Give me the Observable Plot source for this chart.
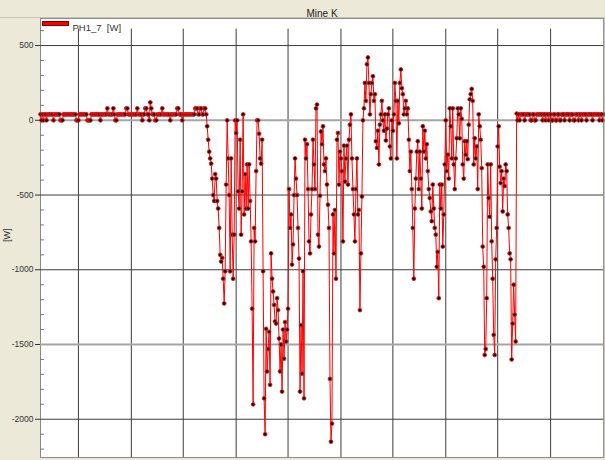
<!DOCTYPE html>
<html>
<head>
<meta charset="utf-8">
<script src="https://cdn.jsdelivr.net/npm/d3@7"></script>
<script src="https://cdn.jsdelivr.net/npm/@observablehq/plot@0.6"></script>
<style>
  html, body { margin: 0; padding: 0; background: #ECE9D8; }
  #chart { width: 605px; height: 460px; }
</style>
</head>
<body>
<div id="chart"></div>
<script>
// ---- Data (values in W, one sample per step) ----
const seriesName = "PH1_7\u00a0 [W]";
const title = "Mine K";
const yLabel = "[W]";

const idleStart = [
  40,0,40,0,40,40,0,40,40,40,
  40,40,40,0,40,40,40,40,40,40,
  0,0,0,40,40,40,40,40,40,40,
  40,40,40,40,40,40,0,0,0,40,
  40,40,40,40,40,40,40,0,0,0,
  0,40,40,40,40,40,40,40,40,40,
  0,40,40,40,40,40,40,80,40,40,
  40,40,40,80,40,0,0,40,40,40,
  40,40,40,40,40,40,80,80,40,40,
  40,40,40,40,40,40,40,80,40,40,
  40,40,0,40,40,80,80,40,40,0,
  120,80,40,40,40,0,0,40,40,40,
  40,40,80,40,40,40,40,40,40,40,
  0,40,40,40,40,40,40,80,80,40,
  40,40,0,40,40,40,40,40,40,40,
  40,40,40,40,40,80,80,80,40,40,
  80,80,40,40,80,80,40
];

const active = [
  -40,-130,-210,-255,-290,-390,-500,-540,-360,-390,
  -540,-590,-720,-900,-945,-920,-1060,-1225,-1010,-430,
  0,-255,-500,-1010,-255,-765,-1060,-765,0,-85,
  0,-475,-590,-130,-765,-475,40,-630,-360,-590,
  -295,-590,-295,-540,-810,-1260,-1900,-720,-810,-340,
  0,0,-90,-255,-290,-130,-1010,-1860,-2100,-1395,
  -1680,-1530,-1415,-1770,-890,-1060,-1145,-1235,-1345,-1360,
  -1190,-1270,-1460,-1680,-1500,-1815,-1400,-1595,-1350,-1480,
  -1400,-1260,-460,-720,-630,-965,-830,-500,-255,-390,
  -500,-720,-925,-1815,-1370,-1695,-1010,-1860,-130,-255,
  -160,-460,-810,-890,-630,-460,-130,-295,-460,80,
  105,-765,-845,-505,-75,-160,-40,-295,-340,-255,
  -430,-565,-720,-1730,-2150,-2030,-630,-890,-600,-1060,
  -130,-85,-430,-210,-255,-340,-810,-170,-410,-255,
  -170,-430,-130,-30,40,-255,-460,-630,-810,-460,
  -255,-630,-600,-1270,-890,-510,0,80,250,130,
  375,420,250,40,175,250,295,130,175,-140,
  -185,-70,-295,-30,40,130,0,-70,40,-135,
  -55,40,80,-175,-255,0,-70,40,250,130,
  -255,130,-20,250,340,215,175,40,80,130,
  40,80,-130,-340,-210,-460,-720,-1060,-590,-390,
  -210,-140,-460,-210,-390,-590,-40,-210,-70,-255,
  -160,-340,-460,-520,-610,-675,-430,-590,-720,-765,
  -980,-880,-1190,-430,-590,-430,-845,-630,-295,0,
  -340,-230,-390,80,-40,-255,80,-295,-460,-255,
  -120,80,40,-120,80,10,-295,-390,-140,-230,
  -140,-260,-30,140,175,210,130,-295,-120,-255,
  -175,-460,40,-40,-130,-320,-845,-980,-1570,-1530,
  -1190,-295,-520,-645,-295,-810,-1060,-1435,-1570,-930,
  -720,-175,-40,-310,-420,-340,-610,-390,-440,-295,
  -340,-630,-720,-890,-930,-1600,-1360,-1100,-1300,-1480,
  45
];

const idleEnd = [
  0,40,0,40,40,40,40,0,40,40,
  40,40,40,0,0,40,40,0,0,40,
  40,40,40,40,40,0,40,40,0,40,
  40,0,40,40,0,0,40,40,0,0,
  40,40,0,0,40,40,40,0,40,40,
  40,40,0,40,40,40,0,0,40,40,
  40,0,40,40,0,40,40,40,40,0,
  40,40,40,40,40,0,40,40,40,40,
  40,40,0,40,40,0,40
];

const yMajorTicks = [-2000, -1500, -1000, -500, 0, 500];
const yDarkGrid = [-2000, -1000, -500, 500];
const yLightGrid = [-1500, 0];
const yMinorTicks = [-2200,-2100,-1900,-1800,-1700,-1600,-1400,-1300,-1200,-1100,
                     -900,-800,-700,-600,-400,-300,-200,-100,100,200,300,400,600];
const xGrid = [38, 91, 143, 196, 248, 301, 353, 406, 458, 511];
const yDomain = [-2256, 681];
const gridTop = 610;

const values = idleStart.concat(active, idleEnd);
const data = values.map((v, i) => ({i, v}));
const xDomain = [0, values.length - 1];

const font = "'Liberation Sans', Arial, sans-serif";

const plot = Plot.plot({
  width: 605,
  height: 460,
  marginLeft: 40,
  marginRight: 2,
  marginTop: 18,
  marginBottom: 3,
  style: {background: "#ECE9D8", fontFamily: font, fontSize: "8.5px", color: "#333"},
  x: {domain: xDomain, axis: null},
  y: {domain: yDomain, axis: null},
  marks: [
    Plot.frame({fill: "white", stroke: "#8a8a8a"}),
    Plot.ruleX(xGrid, {y1: yDomain[0], y2: gridTop, stroke: "#3c3c3c", strokeWidth: 1}),
    Plot.ruleY(yDarkGrid, {stroke: "#3c3c3c", strokeWidth: 1}),
    Plot.ruleY(yLightGrid, {stroke: "#a5a5a5", strokeWidth: 2}),
    Plot.ruleY(yMinorTicks, {x1: 0, x2: 4, stroke: "#777", strokeWidth: 1}),
    Plot.axisY({ticks: yMajorTicks, tickFormat: d => String(d), tickSize: 5, tickPadding: 2,
                label: null, fontSize: 8.5, fill: "#333", stroke: "#333"}),
    Plot.line(data, {x: "i", y: "v", stroke: "#ff0000", strokeWidth: 1}),
    Plot.dot(data, {x: "i", y: "v", r: 1.9, fill: "#000", stroke: "#ff1a1a", strokeWidth: 0.9}),
    Plot.text([title], {frameAnchor: "top", dy: -9, fontSize: 10, fill: "#222", fontFamily: font}),
    Plot.text([seriesName], {frameAnchor: "top-left", dx: 32, dy: 6, textAnchor: "start",
                             fontSize: 9.5, fill: "#333", fontFamily: font}),
    Plot.text([yLabel], {frameAnchor: "left", dx: -33, dy: 4, rotate: -90, fontSize: 9, fill: "#333", fontFamily: font})
  ]
});

// legend swatch
const svg = d3.select(plot);
svg.append("rect")
  .attr("x", 42.5).attr("y", 21.5).attr("width", 26).attr("height", 4)
  .attr("fill", "#ff0000").attr("stroke", "#7a0000").attr("stroke-width", 1);
// title strip divider and right shadow
svg.insert("line", ":first-child")
  .attr("x1", 0).attr("x2", 605).attr("y1", 17.5).attr("y2", 17.5)
  .attr("stroke", "#c9c6b8");
svg.append("line")
  .attr("x1", 604).attr("x2", 604).attr("y1", 18).attr("y2", 458)
  .attr("stroke", "#a0a0a0").attr("stroke-width", 1);

document.getElementById("chart").appendChild(plot);
</script>
</body>
</html>
